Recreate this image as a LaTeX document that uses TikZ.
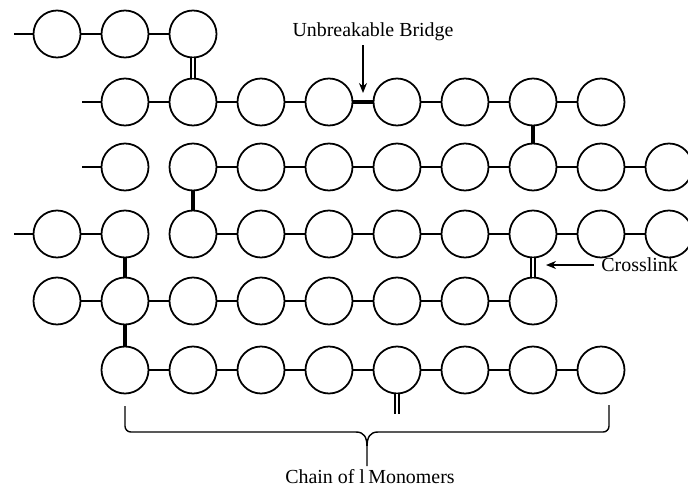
\documentclass[tikz,border=0pt]{standalone}
\usepackage{fontspec}
\setmainfont{Liberation Serif}
\usepackage{tikz}
\usetikzlibrary{positioning,arrows.meta,calc}
\tikzset{
  mono/.style={draw,circle,line width=1.5pt,minimum size=1.41cm,inner sep=0pt},
  bond/.style={line width=1.2pt},
  bridge/.style={line width=3pt},
  xlink/.style={double,line width=1.1pt,double distance=2.4pt},
  lbl/.style={font=\fontsize{17}{20}\selectfont,inner sep=1pt},
  ar/.style={-{Stealth[length=3mm,width=2.4mm]},line width=1.2pt},
}

\begin{document}
\begin{tikzpicture}[x=0.03cm,y=-0.03cm]
  \useasboundingbox (0,0) rectangle (688,490);
  % monomers: row/y/first/last column
  \foreach \r/\y/\a/\b in {1/34/0/2, 2/102/1/8, 3/167/1/9, 4/234/0/9, 5/301/0/7, 6/370/1/8} {
    \foreach \c in {\a,...,\b} \node[mono] (m\r-\c) at ({57+68*\c},\y) {};
  }
  % chain bonds: row/first/last start column
  \foreach \r/\a/\e in {1/0/1, 2/1/3, 2/5/7, 3/2/8, 4/0/0, 4/2/8, 5/0/6, 6/1/7} {
    \foreach \c in {\a,...,\e} {
      \pgfmathtruncatemacro\n{\c+1}
      \draw[bond] (m\r-\c) -- (m\r-\n);
    }
  }
  \foreach \r/\a in {1/0, 2/1, 3/1, 4/0} {\draw[bond] (m\r-\a.west) -- ++(-19,0);}
  % unbreakable bridges
  \draw[bridge] (m2-4) -- (m2-5);
  \foreach \r/\c in {2/7, 3/2, 4/1, 5/1} {
    \pgfmathtruncatemacro\s{\r+1}
    \draw[bridge] (m\r-\c) -- (m\s-\c);
  }
  % crosslinks
  \draw[xlink] (m1-2) -- (m2-2);
  \draw[xlink] (m4-7) -- (m5-7);
  \draw[xlink] (m6-5.south) -- ++(0,20);
  % labels
  \coordinate (bmid) at ($(m2-4)!0.5!(m2-5)$);
  \node[lbl] (ub) at (373,32) {Unbreakable Bridge};
  \draw[ar] ($(ub.south -| bmid)+(0,3)$) -- ($(bmid)+(0,-9)$);
  \coordinate (xmid) at ($(m4-7)!0.5!(m5-7)$);
  \node[lbl,anchor=west] (cl) at (600,265) {Crosslink};
  \draw[ar] ($(cl.west)+(-6,0)$) -- ($(cl.west -| xmid)+(13,0)$);
  % brace
  \draw[line width=1.2pt,rounded corners=5]
    (125,406) -- (125,432) -- (356,432);
  \draw[line width=1.2pt]
    (356,432) .. controls (364,432) and (367,437) .. (367,447) -- (367,466)
    (367,447) .. controls (367,437) and (370,432) .. (378,432);
  \draw[line width=1.2pt,rounded corners=5]
    (378,432) -- (609,432) -- (609,405);
  \node[lbl] (chain) at (370,477) {Chain of l\,Monomers};
\end{tikzpicture}
\end{document}
